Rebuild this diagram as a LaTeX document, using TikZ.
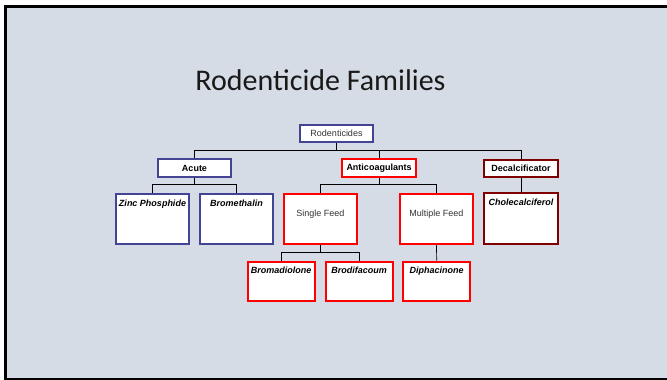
\documentclass[tikz,border=0pt]{standalone}
\usepackage{fontspec}
\setmainfont{Liberation Sans}
\newfontfamily\titlefont{Carlito}
\usetikzlibrary{
	calc,
	positioning
}
\definecolor{slide}{HTML}{D6DCE5}
\definecolor{acuteblue}{HTML}{444494}
\definecolor{anticored}{HTML}{FF0000}
\definecolor{decalred}{HTML}{800000}
\definecolor{softtext}{HTML}{333333}

\begin{document}
\begin{tikzpicture}[
	x=1pt, y=-1pt,
	head/.style={
		draw, line width=2pt, fill=white, inner sep=0pt,
		minimum width=73.5pt, minimum height=17.5pt, align=center,
		font=\fontsize{9}{10}\selectfont\bfseries
	},
	leaf/.style={
		draw, line width=2pt, fill=white, inner xsep=1pt, inner ysep=0pt,
		minimum width=73.5pt, align=center,
		text height=12.5pt, text depth=38pt,
		font=\fontsize{9}{10}\selectfont\bfseries\itshape
	},
	feed/.style={
		leaf, text height=22.5pt, text depth=28pt,
		font=\fontsize{9}{10}\selectfont, text=softtext
	},
	drug/.style={
		leaf, minimum width=67pt, text height=11.8pt, text depth=27.2pt
	},
	link/.style={draw=black, line width=0.7pt},
	]
	
	% Slide background and frame
	\useasboundingbox (0,0) rectangle (667,380);
	\fill[white] (0,0) rectangle (667,380);
	\fill[black] (4,5) rectangle (672,382);
	\fill[slide] (7,7.5) rectangle (672,378);
	
	% Title
	\node[anchor=base, font=\titlefont\fontsize{30}{34}\selectfont, text=black!90] (title) at (320.5,90.5) {Rodenticide Families};
	
	% Root
	\node[head, draw=acuteblue, font=\fontsize{9}{10}\selectfont, text=softtext, minimum height=16.5pt] (root) at (336.5,133.5) {Rodenticides};
	
	% Families
	\node[head, draw=acuteblue] (acute) at (194.5,168) {Acute};
	\node[head, draw=anticored] (anti)  at (379,168)   {Anticoagulants};
	\node[head, draw=decalred]  (decal) at (521,168.3) {Decalcificator};
	
	% Second level
	\node[leaf, draw=acuteblue] (zinc)   at (152.5,219) {Zinc Phosphide};
	\node[leaf, draw=acuteblue] (brom)   at (236.5,219) {Bromethalin};
	\node[feed, draw=anticored] (single) at (320.5,219) {Single Feed};
	\node[feed, draw=anticored] (multi)  at (436.5,219) {Multiple Feed};
	\node[leaf, draw=decalred]  (chole)  at (521,218.7) {Cholecalciferol};
	
	% Third level
	\node[drug, draw=anticored] (bromad) at (281.2,281.2) {Bromadiolone};
	\node[drug, draw=anticored] (brodi)  at (359.2,281.2) {Brodifacoum};
	\node[drug, draw=anticored] (dipha)  at (436.7,281.2) {Diphacinone};
	
	% --- Connectors ---
	\draw[link] (root.south) -- ++(0,8) -| (acute.north);
	\draw[link] (root.south) ++(0,8) -| (anti.north);
	\draw[link] (root.south) ++(0,8) -| (decal.north);
	
	\draw[link] (acute.south) -- ++(0,7) -| (zinc.north);
	\draw[link] (acute.south) ++(0,7) -| (brom.north);
	
	\draw[link] (anti.south) -- ++(0,7) -| (single.north);
	\draw[link] (anti.south) ++(0,7) -| (multi.north);
	
	\draw[link] (decal.south) -- (chole.north);
	
	\draw[link] (single.south) -- ++(0,7) -| (bromad.north);
	\draw[link] (single.south) ++(0,7) -| (brodi.north);
	
	\draw[link] (multi.south) -- (dipha.north);
\end{tikzpicture}
\end{document}
